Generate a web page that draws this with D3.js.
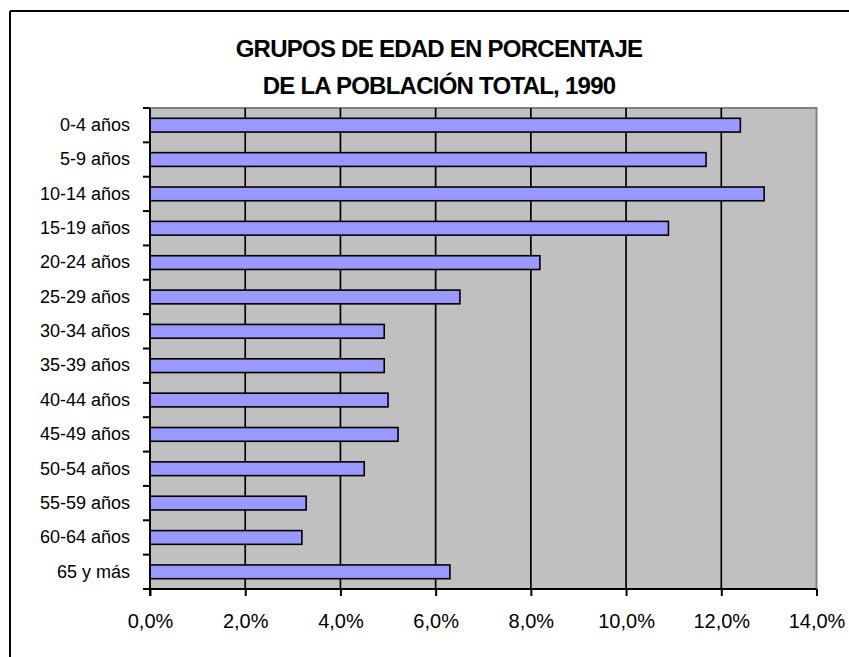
<!DOCTYPE html>
<html>
<head>
<meta charset="utf-8">
<script src="https://cdn.jsdelivr.net/npm/d3@7"></script>
<style>
  html, body { margin: 0; padding: 0; background: #fff; }
  svg { display: block; }
</style>
</head>
<body>
<svg id="chart" width="849" height="657"></svg>
<script>
const categories = ["0-4 años","5-9 años","10-14 años","15-19 años","20-24 años","25-29 años","30-34 años","35-39 años","40-44 años","45-49 años","50-54 años","55-59 años","60-64 años","65 y más"];
const values = [12.4, 11.68, 12.9, 10.89, 8.19, 6.51, 4.92, 4.92, 5.0, 5.21, 4.5, 3.28, 3.19, 6.3];
const xTicks = [0, 2, 4, 6, 8, 10, 12, 14];
const xTickLabels = ["0,0%","2,0%","4,0%","6,0%","8,0%","10,0%","12,0%","14,0%"];
const titleLines = ["GRUPOS DE EDAD EN PORCENTAJE", "DE LA POBLACIÓN TOTAL, 1990"];

const svg = d3.select("#chart");
const font = "'Liberation Sans', Arial, sans-serif";

const plot = { left: 150, right: 816.5, top: 108, bottom: 589 };

const x = d3.scaleLinear().domain([0, 14]).range([plot.left, plot.right]);
const y = d3.scaleBand().domain(categories).range([plot.top, plot.bottom]).padding(0);
const barH = y.step() / 2.5;

// outer chart border (left and top)
svg.append("line").attr("x1", 10).attr("y1", 11).attr("x2", 849).attr("y2", 11)
  .attr("stroke", "#000").attr("stroke-width", 2);
svg.append("line").attr("x1", 10).attr("y1", 11).attr("x2", 10).attr("y2", 657)
  .attr("stroke", "#000").attr("stroke-width", 2);

// title
svg.append("g").selectAll("text").data(titleLines).join("text")
  .attr("x", 439).attr("y", (d, i) => 56.5 + i * 37.5)
  .attr("text-anchor", "middle")
  .attr("font-family", font).attr("font-weight", "bold")
  .attr("font-size", 24).attr("letter-spacing", -0.75)
  .attr("fill", "#000")
  .text(d => d);

// plot background
svg.append("rect")
  .attr("x", plot.left).attr("y", plot.top)
  .attr("width", plot.right - plot.left).attr("height", plot.bottom - plot.top)
  .attr("fill", "#C0C0C0");

// plot border top & right (gray)
svg.append("path")
  .attr("d", `M${plot.left},${plot.top}H${plot.right}V${plot.bottom}`)
  .attr("fill", "none").attr("stroke", "#808080").attr("stroke-width", 2);

// gridlines
svg.append("g").selectAll("line").data(xTicks.filter(d => d > 0 && d < 14)).join("line")
  .attr("x1", d => x(d)).attr("x2", d => x(d))
  .attr("y1", plot.top).attr("y2", plot.bottom)
  .attr("stroke", "#000").attr("stroke-width", 1.7);

// bars
svg.append("g").selectAll("rect").data(categories).join("rect")
  .attr("x", x(0))
  .attr("y", d => y(d) + (y.step() - barH) / 2)
  .attr("width", (d, i) => x(values[i]) - x(0))
  .attr("height", barH)
  .attr("fill", "#9999FF")
  .attr("stroke", "#000").attr("stroke-width", 1.6);

// y axis: labels
const yAxis = d3.axisLeft(y).tickSize(0).tickPadding(20);
const gy = svg.append("g").attr("transform", `translate(${plot.left},0)`).call(yAxis);
gy.select(".domain").remove();
gy.selectAll("text").attr("font-family", font).attr("font-size", 18).attr("fill", "#000");

// y axis boundary ticks
const bounds = categories.map(c => y(c)).concat([plot.bottom]);
svg.append("g").selectAll("line").data(bounds).join("line")
  .attr("x1", plot.left - 7).attr("x2", plot.left)
  .attr("y1", d => d).attr("y2", d => d)
  .attr("stroke", "#000").attr("stroke-width", 2);

// y axis line
svg.append("line").attr("x1", plot.left).attr("x2", plot.left)
  .attr("y1", plot.top).attr("y2", plot.bottom + 7)
  .attr("stroke", "#000").attr("stroke-width", 2);

// x axis
const xAxis = d3.axisBottom(x).tickValues(xTicks).tickSize(7).tickPadding(18)
  .tickFormat((d, i) => xTickLabels[i]);
const gx = svg.append("g").attr("transform", `translate(0,${plot.bottom})`).call(xAxis);
gx.select(".domain").attr("stroke", "#000").attr("stroke-width", 2).attr("d", `M${plot.left},0H${plot.right}`);
gx.selectAll(".tick line").attr("stroke", "#000").attr("stroke-width", 2);
gx.selectAll("text").attr("font-family", font).attr("font-size", 20).attr("fill", "#000");
</script>
</body>
</html>
